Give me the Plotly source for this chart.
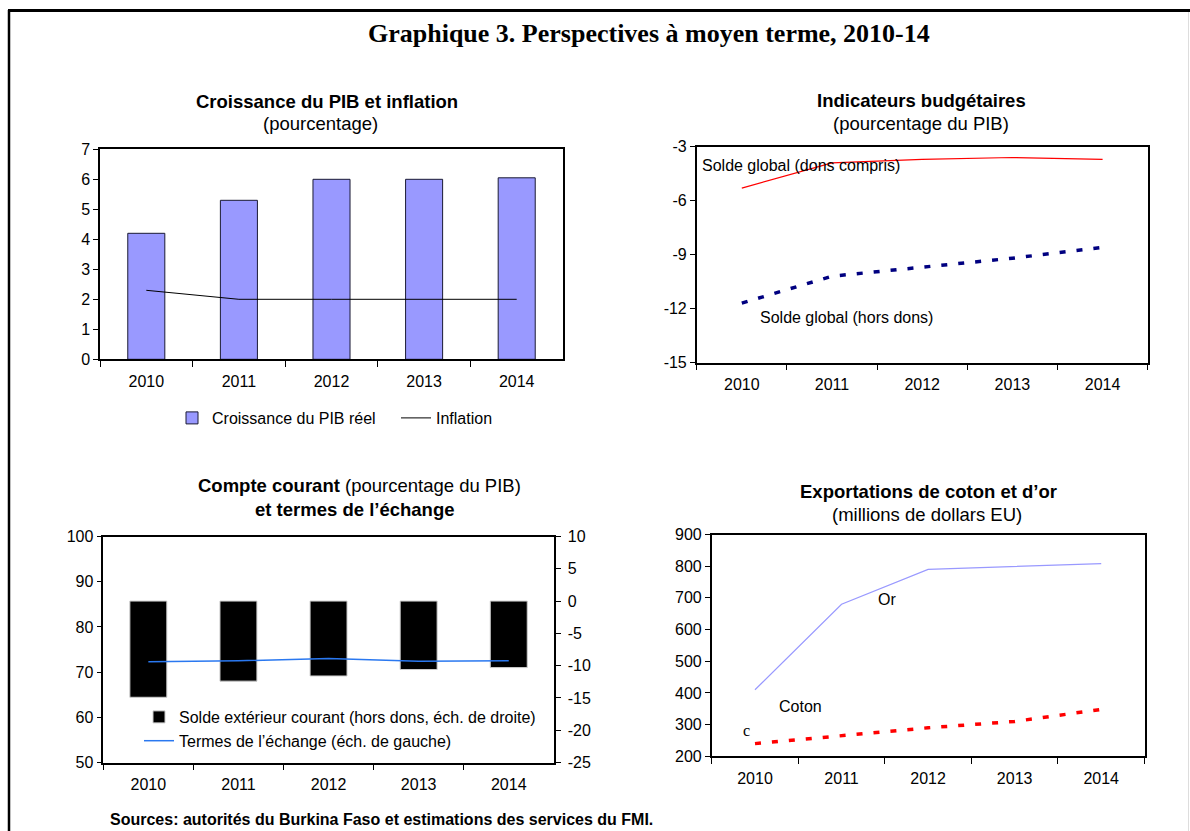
import plotly.graph_objects as go

years = ["2010", "2011", "2012", "2013", "2014"]

# Panel 1: Croissance du PIB et inflation
pib_growth = [4.2, 5.3, 6.0, 6.0, 6.05]
inflation = [2.3, 2.0, 2.0, 2.0, 2.0]
ticks_p1 = [0, 1, 2, 3, 4, 5, 6, 7]

# Panel 2: Indicateurs budgetaires
solde_dons = [-5.3, -3.9, -3.7, -3.6, -3.7]
solde_hors_dons = [-11.7, -10.2, -9.7, -9.2, -8.6]
ticks_p2 = [-15, -12, -9, -6, -3]

# Panel 3: Compte courant et termes de l'echange
solde_ext = [-14.9, -12.4, -11.6, -10.6, -10.3]
termes_echange = [72.3, 72.5, 73.0, 72.4, 72.5]
ticks_p3_right = [-25, -20, -15, -10, -5, 0, 5, 10]
ticks_p3_left = [50, 60, 70, 80, 90, 100]

# Panel 4: Exportations de coton et d'or
or_exports = [410, 680, 790, 800, 808]
coton_exports = [240, 265, 290, 310, 348]
ticks_p4 = [200, 300, 400, 500, 600, 700, 800, 900]

W, H = 1190, 831
FONT = "Liberation Sans, Arial, sans-serif"
SERIF = "Liberation Serif, Times New Roman, serif"


def px(x):
    return x / W


def py(y):
    return 1 - y / H


fig = go.Figure()

# Panel 1
fig.add_trace(go.Bar(x=years, y=pib_growth, name="Croissance du PIB réel", width=0.4,
                     marker=dict(color="#9999FF", line=dict(color="#1a1a33", width=1)),
                     xaxis="x", yaxis="y", legend="legend"))
fig.add_trace(go.Scatter(x=years, y=inflation, name="Inflation", mode="lines",
                         line=dict(color="black", width=1), xaxis="x", yaxis="y", legend="legend"))

# Panel 2
fig.add_trace(go.Scatter(x=years, y=solde_dons, mode="lines", showlegend=False,
                         line=dict(color="#FF0000", width=1.2), xaxis="x2", yaxis="y2"))
fig.add_trace(go.Scatter(x=years, y=solde_hors_dons, mode="lines", showlegend=False,
                         line=dict(color="#000080", width=3.5, dash="6px,11px"), xaxis="x2", yaxis="y2"))

# Panel 3 (bars on right scale as base axis, line on left overlay so it is drawn on top)
fig.add_trace(go.Bar(x=years, y=solde_ext, width=0.41,
                     name="Solde extérieur courant (hors dons, éch. de droite)",
                     marker=dict(color="black", line=dict(color="#cccccc", width=1)),
                     xaxis="x3", yaxis="y3", legend="legend2"))
fig.add_trace(go.Scatter(x=years, y=termes_echange, mode="lines",
                         name="Termes de l’échange (éch. de gauche)",
                         line=dict(color="#2A78F0", width=1.5), xaxis="x3", yaxis="y5", legend="legend2"))

# Panel 4
fig.add_trace(go.Scatter(x=years, y=or_exports, mode="lines", showlegend=False,
                         line=dict(color="#9999FF", width=1.2), xaxis="x4", yaxis="y4"))
fig.add_trace(go.Scatter(x=years, y=coton_exports, mode="lines", showlegend=False,
                         line=dict(color="#FF0000", width=3.5, dash="6px,11px"), xaxis="x4", yaxis="y4"))

tickfont = dict(family=FONT, size=16, color="black")


def xax(domain, anchor):
    return dict(domain=domain, anchor=anchor, type="category", range=[-0.5, 4.5],
                tickson="boundaries", ticks="outside", ticklen=6, tickcolor="black",
                ticklabelstandoff=7,
                showline=True, linecolor="black", linewidth=1.5, mirror=True,
                showgrid=False, zeroline=False, tickfont=tickfont, fixedrange=True)


def yax(domain, anchor, tv, **kw):
    d = dict(domain=domain, anchor=anchor, range=[tv[0], tv[-1]],
             tickmode="array", tickvals=tv, ticktext=[str(v) for v in tv],
             ticks="outside", ticklen=5, tickcolor="black",
             showline=True, linecolor="black", linewidth=1.5, mirror=True,
             showgrid=False, zeroline=False, tickfont=tickfont, fixedrange=True)
    d.update(kw)
    return d


d1x = [px(100), px(563)]
d1y = [py(359.3), py(149.3)]
d2x = [px(696.7), px(1147.7)]
d2y = [py(362.5), py(146.7)]
d3x = [px(103.3), px(553.8)]
d3y = [py(762.5), py(536.5)]
d4x = [px(711.7), px(1144.5)]
d4y = [py(756.3), py(534.5)]

fig.update_layout(
    width=W, height=H,
    margin=dict(l=0, r=0, t=0, b=0, autoexpand=False),
    paper_bgcolor="white", plot_bgcolor="white",
    font=dict(family=FONT, size=16, color="black"),
    xaxis=xax(d1x, "y"),
    yaxis=yax(d1y, "x", ticks_p1),
    xaxis2=xax(d2x, "y2"),
    yaxis2=yax(d2y, "x2", ticks_p2),
    xaxis3=xax(d3x, "y3"),
    yaxis3=yax(d3y, "x3", ticks_p3_right, side="right", mirror=False, ticklabelstandoff=4),
    yaxis5=yax(d3y, "x3", ticks_p3_left, side="left", overlaying="y3", mirror=False),
    xaxis4=xax(d4x, "y4"),
    yaxis4=yax(d4y, "x4", ticks_p4),
    barmode="overlay",
    legend=dict(orientation="h", x=px(172), y=py(418), xanchor="left", yanchor="middle",
                font=dict(family=FONT, size=16, color="black"), bgcolor="rgba(0,0,0,0)",
                itemwidth=30, traceorder="normal", entrywidth=179, entrywidthmode="pixels"),
    legend2=dict(orientation="v", x=px(139), y=py(729), xanchor="left", yanchor="middle",
                 font=dict(family=FONT, size=16, color="black"), bgcolor="rgba(0,0,0,0)",
                 itemwidth=30, traceorder="normal", tracegroupgap=0),
)

ann = []
# Main title
ann.append(dict(text="<b>Graphique 3. Perspectives à moyen terme, 2010-14</b>", x=px(649), y=py(33),
                xref="paper", yref="paper", showarrow=False, xanchor="center", yanchor="middle",
                font=dict(family=SERIF, size=26, color="black")))


def ptitle(text, x, y, size=18.5):
    ann.append(dict(text=text, x=px(x), y=py(y), xref="paper", yref="paper", showarrow=False,
                    xanchor="center", yanchor="middle", font=dict(family=FONT, size=size, color="black")))


ptitle("<b>Croissance du PIB et inflation</b>", 326.7, 101.7)
ptitle("(pourcentage)", 320, 124)
ptitle("<b>Indicateurs budgétaires</b>", 921, 100.7)
ptitle("(pourcentage du PIB)", 921, 124)
ptitle("<b>Compte courant</b> (pourcentage du PIB)", 359, 485.7)
ptitle("<b>et termes de l’échange</b>", 354.7, 509.3)
ptitle("<b>Exportations de coton et d’or</b>", 928.7, 491)
ptitle("(millions de dollars EU)", 926.7, 514.3)

# Series labels
lab = dict(family=FONT, size=16, color="black")
ann.append(dict(text="Solde global (dons compris)", x=-0.46, y=-4.05, xref="x2", yref="y2",
                showarrow=False, xanchor="left", yanchor="middle", font=lab))
ann.append(dict(text="Solde global (hors dons)", x=0.18, y=-12.52, xref="x2", yref="y2",
                showarrow=False, xanchor="left", yanchor="middle", font=lab))
ann.append(dict(text="Or", x=1.52, y=695, xref="x4", yref="y4",
                showarrow=False, xanchor="center", yanchor="middle", font=lab))
ann.append(dict(text="Coton", x=0.53, y=356, xref="x4", yref="y4",
                showarrow=False, xanchor="center", yanchor="middle", font=lab))
ann.append(dict(text="c", x=-0.10, y=283, xref="x4", yref="y4",
                showarrow=False, xanchor="center", yanchor="middle",
                font=dict(family=SERIF, size=16, color="black")))

# Sources
ann.append(dict(text="<b>Sources: autorités du Burkina Faso et estimations des services du FMI.</b>",
                x=px(108), y=py(819), xref="paper", yref="paper", showarrow=False,
                xanchor="left", yanchor="middle", font=dict(family=FONT, size=16, color="black")))

fig.update_layout(annotations=ann)

# Page frame
fig.update_layout(shapes=[
    dict(type="line", xref="paper", yref="paper", x0=px(8), x1=1, y0=py(10.5), y1=py(10.5),
         line=dict(color="black", width=3)),
    dict(type="line", xref="paper", yref="paper", x0=px(9), x1=px(9), y0=py(10), y1=0,
         line=dict(color="black", width=2.5)),
    dict(type="line", xref="paper", yref="paper", x0=px(1188.5), x1=px(1188.5), y0=py(12), y1=0,
         line=dict(color="#dddddd", width=1)),
])

fig.write_html("out.html", config={"displayModeBar": False},
               post_script="document.body.style.margin='0';document.body.style.overflow='hidden';")
